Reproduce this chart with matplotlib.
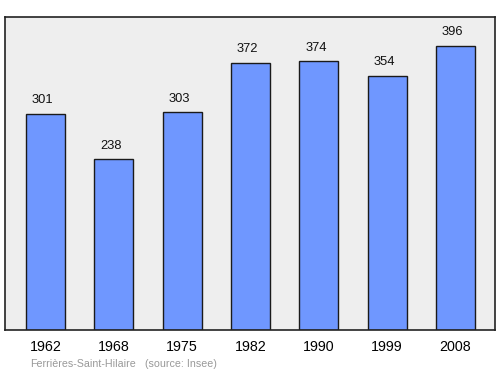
import matplotlib
matplotlib.use("Agg")
from matplotlib import pyplot as plt

years = ['1962', '1968', '1975', '1982', '1990', '1999', '2008']
population = [301, 238, 303, 372, 374, 354, 396]

plt.rcParams['font.family'] = ['Liberation Sans', 'DejaVu Sans']

fig = plt.figure(figsize=(5, 3.74), dpi=100)
ax = fig.add_axes([0.01, 0.1176, 0.979, 0.837])
ax.set_facecolor('#eeeeee')

pos = list(range(len(years)))
bars = ax.bar(pos, population, width=0.57, color='#6f97ff', edgecolor='#1a1a1a', linewidth=1)

for x, v in zip(pos, population):
    ax.annotate(str(v), (x, v), xytext=(-2, 5.5), textcoords='offset points',
                ha='center', va='bottom', fontsize=9.3, color='#111111')

ax.set_xlim(-0.59, 6.57)
ax.set_ylim(0, 436)
ax.set_yticks([])
ax.set_xticks(pos)
ax.set_xticklabels(years, fontsize=10.3)
ax.tick_params(axis='x', length=0, pad=7.5)
for s in ax.spines.values():
    s.set_linewidth(1.2)
    s.set_color('#222222')

fig.text(30 / 500, 1 - 364 / 374, 'Ferrières-Saint-Hilaire', fontsize=7.7, color='#999999', va='center')
fig.text(145 / 500, 1 - 364 / 374, '(source: Insee)', fontsize=7.7, color='#999999', va='center')

fig.savefig('out.png', dpi=100)
